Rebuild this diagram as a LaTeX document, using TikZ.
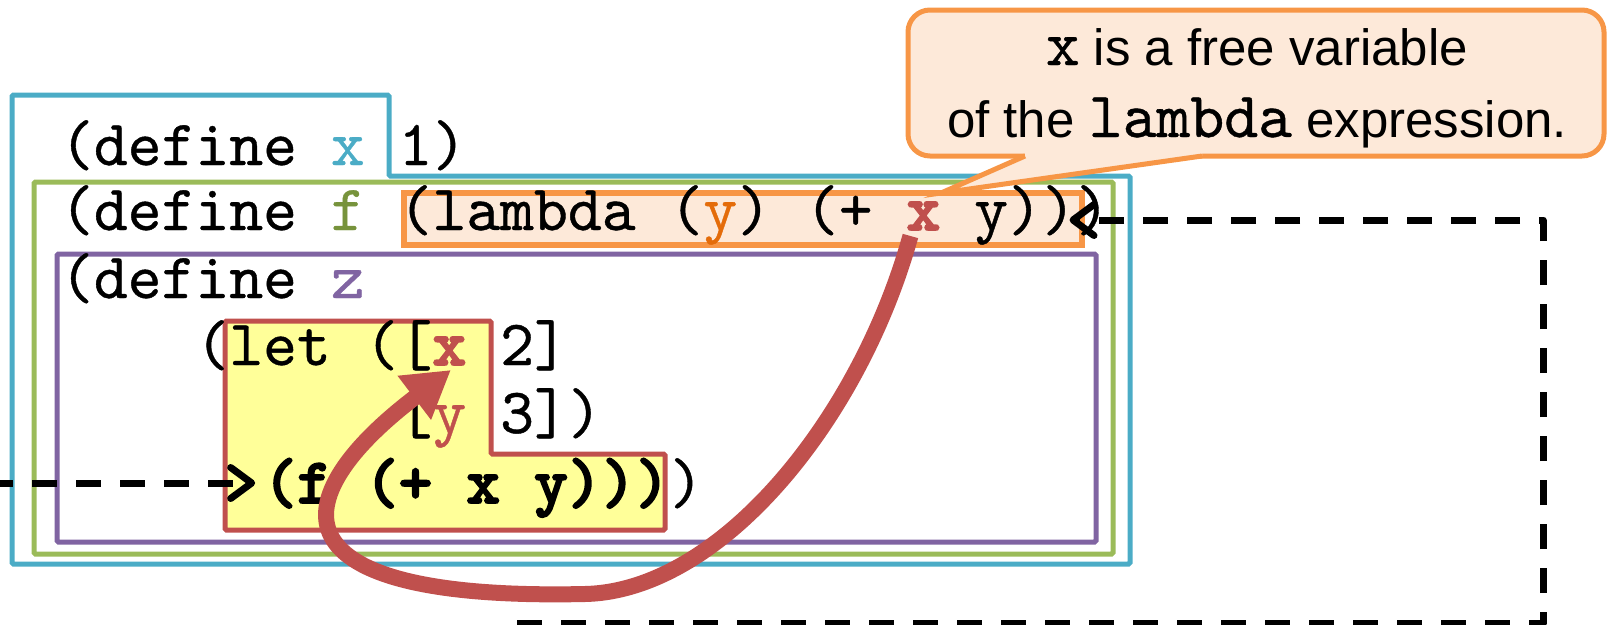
\documentclass[tikz,border=0pt]{standalone}
\usepackage{fontspec}
\setmainfont{Liberation Sans}
\newfontfamily\codefont{lmmono10-regular}[Extension=.otf, UprightFeatures={FakeBold=0.6},
  BoldFont=lmmonolt10-bold, BoldFeatures={FakeBold=2.6}]
\usetikzlibrary{arrows.meta}

\definecolor{scopeblue}{HTML}{4BACC6}
\definecolor{scopegreen}{HTML}{9BBB59}
\definecolor{scopepurple}{HTML}{8064A2}
\definecolor{lamorange}{HTML}{F79646}
\definecolor{lamfill}{HTML}{FDE9D9}
\definecolor{bindred}{HTML}{C0504D}
\definecolor{letyellow}{HTML}{FFFF99}
\definecolor{vargreen}{HTML}{77933C}
\definecolor{varorange}{HTML}{E46C0A}

% monospace grid: column width and left margin of column 0
\newcommand\colw{33.86}
\newcommand\colx{60}
\newcommand\codesize{\fontsize{64.5}{70}\selectfont}

\begin{document}
\begin{tikzpicture}[x=1pt,y=-1pt,
  frame/.style={line width=5pt, rounded corners=1.5pt},
  code/.style={inner sep=0pt, outer sep=0pt, anchor=base west, font=\codefont\codesize},
  bind/.style={line width=16pt, draw=bindred, -{Triangle[length=46pt,width=52pt]}},
  loopline/.style={line width=7pt, dash pattern=on 25pt off 19pt, line join=round},
  looptip/.style={-{Straight Barb[length=21pt,width=31pt,round]}},
  notebox/.style={draw=lamorange, fill=lamfill, line width=5pt, rounded corners=22pt,
                  minimum width=696pt, minimum height=146pt, inner sep=0pt},
  notetext/.style={anchor=base, inner sep=0pt, font=\fontsize{51}{60}\selectfont}
]
\useasboundingbox (0,0) rectangle (1612,624);

% nested scopes
\draw[frame, draw=scopeblue] (12,95) -- (389,95) -- (389,176) -- (1130,176)
     -- (1130,564) -- (12,564) -- cycle;
\draw[frame, draw=scopegreen] (34,182) rectangle (1113,554);
\draw[frame, draw=scopepurple] (57,254) rectangle (1096,542);
\node[draw=lamorange, fill=lamfill, line width=5.5pt, inner sep=0pt,
      minimum width=678pt, minimum height=52pt, anchor=north west] (lam) at (401,190) {};
\draw[frame, draw=bindred, fill=letyellow] (225,321) -- (491,321) -- (491,454)
     -- (665,454) -- (665,530) -- (225,530) -- cycle;

% line 1
\node[code] (d1) at ({\colx+0*\colw},165) {(define};
\node[code, text=scopeblue] (vx) at ({\colx+8*\colw},165) {x};
\node[code] (d1end) at ({\colx+10*\colw},165) {1)};
% line 2
\node[code] (d2) at ({\colx+0*\colw},230) {(define};
\node[code, text=vargreen] (vf) at ({\colx+8*\colw},230) {f};
\node[code] (lamA) at ({\colx+10*\colw},230) {(lambda (};
\node[code, text=varorange] (ly) at ({\colx+19*\colw},230) {y};
\node[code] (lamB) at ({\colx+20*\colw},230) {) (+};
\node[code, text=bindred, font=\codefont\codesize\bfseries] (lx) at ({\colx+25*\colw},230) {x};
\node[code] (lamC) at ({\colx+27*\colw},230) {y))};
\node[code] (d2end) at ({\colx+30*\colw},230) {)};
% line 3
\node[code] (d3) at ({\colx+0*\colw},298) {(define};
\node[code, text=scopepurple] (vz) at ({\colx+8*\colw},298) {z};
% line 4
\node[code] (letA) at ({\colx+4*\colw},365) {(let ([};
\node[code, text=bindred, font=\codefont\codesize\bfseries] (lex) at ({\colx+11*\colw},365) {x};
\node[code] (letB) at ({\colx+13*\colw},365) {2]};
% line 5
\node[code] (letC) at ({\colx+10*\colw},433) {[};
\node[code, text=bindred] (ley) at ({\colx+11*\colw},433) {y};
\node[code] (letD) at ({\colx+13*\colw},433) {3])};
% line 6
\node[code, font=\codefont\codesize\bfseries] (callexpr) at ({\colx+6*\colw},503) {(f (+ x y)))};
\node[code] (d3end) at ({\colx+18*\colw},503) {)};

% binding arrow from the free x to the let-bound x
\coordinate (loopbottom) at (585,594);
\draw[bind] ([xshift=-13pt,yshift=-6pt]lx.south)
   .. controls +(-51,184) and +(135,-3) .. (loopbottom)
   .. controls +(-315,7) and +(-171,130) .. ([xshift=1.5pt,yshift=-5pt]lex.south);

% dashed control flow
\coordinate (flowin) at (-12,483);
\draw[loopline, looptip] (flowin) -- ([xshift=-8pt,yshift=20pt]callexpr.base west);
\coordinate (flowbottom) at (517,623);
\coordinate (flowcorner) at (1543,623);
\coordinate (flowtop) at (1543,220);
\draw[loopline, looptip] (flowbottom) -- (flowcorner) -- (flowtop)
   -- ([xshift=-15pt]lam.east |- flowtop);

% callout
\node[notebox] (note) at (1256,83) {};
\coordinate (wedgeL) at (1025,156);
\coordinate (wedgeR) at (1202,156);
\coordinate (wedgeTip) at (941,193);
\fill[lamfill] (wedgeTip) -- (wedgeL) -- ([yshift=4pt]wedgeL) -- ([yshift=4pt]wedgeR)
   -- (wedgeR) -- cycle;
\draw[draw=lamorange, line width=5pt, line join=miter] (wedgeL) -- (wedgeTip) -- (wedgeR);
\node[notetext] (noteA) at (1257,65) {{\codefont\codesize x} is a free variable};
\node[notetext] (noteB) at (1257,137) {of the {\codefont\codesize lambda} expression.};
\end{tikzpicture}
\end{document}
